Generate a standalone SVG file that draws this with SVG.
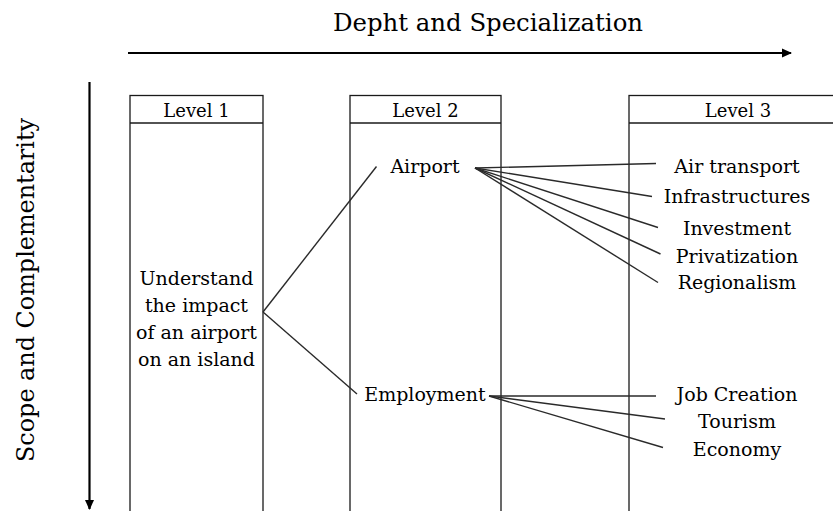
<svg xmlns="http://www.w3.org/2000/svg" width="833" height="511" viewBox="0 0 833 511">
  <style>
    .axis { font-family: "DejaVu Serif", "Liberation Serif", serif; font-size: 24px; fill: #000; text-anchor: middle; }
    .head { font-family: "DejaVu Serif", "Liberation Serif", serif; font-size: 18px; fill: #000; text-anchor: middle; }
    .lbl { font-family: "DejaVu Serif", "Liberation Serif", serif; font-size: 19px; fill: #000; text-anchor: middle; }
    .col { fill: #fff; stroke: #1a1a1a; stroke-width: 1.3; }
    .link { stroke: #2a2a2a; stroke-width: 1.4; fill: none; }
    .arrow { stroke: #000; stroke-width: 2.2; fill: none; }
  </style>
  <defs>
    <marker id="head" markerWidth="10" markerHeight="10" refX="9" refY="5" orient="auto" markerUnits="userSpaceOnUse">
      <path d="M0,0.5 L10,5 L0,9.5 Z" fill="#000"/>
    </marker>
  </defs>

  <rect width="833" height="511" fill="#fff"/>

  <!-- axes -->
  <g id="axes">
    <text class="axis" x="488" y="31" textLength="310" lengthAdjust="spacingAndGlyphs">Depht and Specialization</text>
    <line class="arrow" x1="128" y1="53" x2="791" y2="53" marker-end="url(#head)"/>
    <text class="axis" transform="translate(34,290) rotate(-90)" textLength="344" lengthAdjust="spacingAndGlyphs">Scope and Complementarity</text>
    <line class="arrow" x1="89.5" y1="82" x2="89.5" y2="509" marker-end="url(#head)"/>
  </g>

  <!-- level columns -->
  <g id="level1">
    <rect class="col" x="130" y="95.5" width="133" height="440"/>
    <line class="col" x1="130" y1="123" x2="263" y2="123"/>
    <text class="head" x="196.5" y="117">Level 1</text>
  </g>
  <g id="level2">
    <rect class="col" x="350" y="95.5" width="151" height="440"/>
    <line class="col" x1="350" y1="123" x2="501" y2="123"/>
    <text class="head" x="425.5" y="117">Level 2</text>
  </g>
  <g id="level3">
    <rect class="col" x="629" y="95.5" width="220" height="440"/>
    <line class="col" x1="629" y1="123" x2="849" y2="123"/>
    <text class="head" x="738" y="117">Level 3</text>
  </g>

  <!-- connectors -->
  <g id="connectors">
    <line class="link" x1="263" y1="312" x2="376.5" y2="166.5"/>
    <line class="link" x1="263" y1="312" x2="357" y2="394"/>
    <line class="link" x1="475" y1="168" x2="656" y2="163.5"/>
    <line class="link" x1="475" y1="168" x2="652" y2="196.5"/>
    <line class="link" x1="475" y1="168" x2="658" y2="227.5"/>
    <line class="link" x1="475" y1="168" x2="660.5" y2="254"/>
    <line class="link" x1="475" y1="168" x2="658" y2="282.5"/>
    <line class="link" x1="489" y1="396" x2="656" y2="396"/>
    <line class="link" x1="489" y1="396" x2="665" y2="419"/>
    <line class="link" x1="489" y1="396" x2="663" y2="447.5"/>
  </g>

  <!-- nodes -->
  <g id="goal">
    <text class="lbl" x="196.5" y="285">Understand</text>
    <text class="lbl" x="196.5" y="312">the impact</text>
    <text class="lbl" x="196.5" y="339">of an airport</text>
    <text class="lbl" x="196.5" y="366">on an island</text>
  </g>
  <g id="airport"><text class="lbl" x="425" y="172.5">Airport</text></g>
  <g id="employment"><text class="lbl" x="425" y="401">Employment</text></g>
  <g id="air-transport"><text class="lbl" x="737" y="172.5">Air transport</text></g>
  <g id="infrastructures"><text class="lbl" x="737" y="202.5">Infrastructures</text></g>
  <g id="investment"><text class="lbl" x="737" y="235">Investment</text></g>
  <g id="privatization"><text class="lbl" x="737" y="262.5">Privatization</text></g>
  <g id="regionalism"><text class="lbl" x="737" y="289">Regionalism</text></g>
  <g id="job-creation"><text class="lbl" x="737" y="400.5">Job Creation</text></g>
  <g id="tourism"><text class="lbl" x="737" y="428">Tourism</text></g>
  <g id="economy"><text class="lbl" x="737" y="456">Economy</text></g>
</svg>
